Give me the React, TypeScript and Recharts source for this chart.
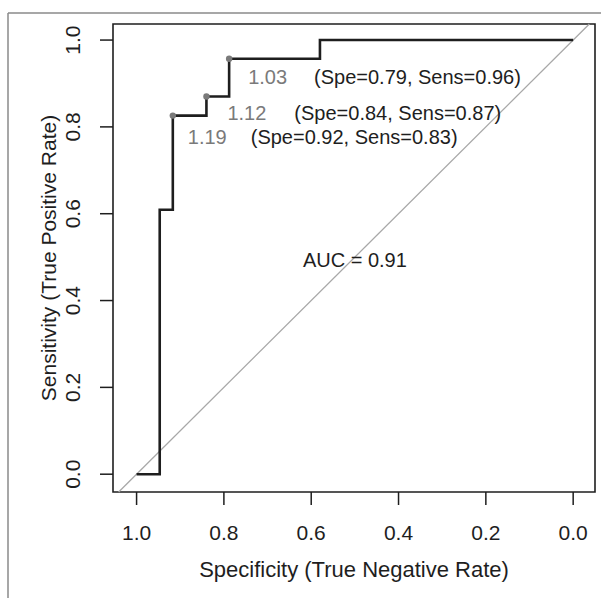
import React from 'react';
import {
  ComposedChart,
  Line,
  Scatter,
  XAxis,
  YAxis,
  ReferenceLine,
  ReferenceArea,
  ReferenceDot,
} from 'recharts';

// ROC step curve (specificity, sensitivity)
const rocSpec = [1, 0.947, 0.947, 0.917, 0.917, 0.84, 0.84, 0.788, 0.788, 0.58, 0.58, 0];
const rocSens = [0, 0, 0.609, 0.609, 0.826, 0.826, 0.87, 0.87, 0.957, 0.957, 1, 1];

// printed thresholds
const thrSpec = [0.788, 0.84, 0.917];
const thrSens = [0.957, 0.87, 0.826];
const thrValues = ['1.03', '1.12', '1.19'];
const thrTexts = ['(Spe=0.79, Sens=0.96)', '(Spe=0.84, Sens=0.87)', '(Spe=0.92, Sens=0.83)'];

const xTicks = [1, 0.8, 0.6, 0.4, 0.2, 0];
const yTicks = [0, 0.2, 0.4, 0.6, 0.8, 1];
const aucText = 'AUC = 0.91';

const X_MIN = -0.05;
const X_MAX = 1.054;
const Y_MIN = -0.041;
const Y_MAX = 1.037;

const FONT = '"Liberation Sans", Arial, Helvetica, sans-serif';
const INK = '#1e1e1e';
const GREY = '#7a7a7a';

// label nudges (px) for each threshold text, same order as thrValues
const labelDx = [19, 21, 15];
const labelDy = [18, 16, 21];
const labelGap = [27, 28, 24];

const rocData = rocSpec.map((spec, i) => ({ spec, sens: rocSens[i] }));
const thrData = thrSpec.map((spec, i) => ({
  spec,
  sens: thrSens[i],
  thr: thrValues[i],
  text: thrTexts[i],
  idx: i,
}));

const XTick = (props: any) => {
  const { x, y, payload } = props;
  return (
    <text x={x} y={y + 33} textAnchor="middle" fontSize={21} fontFamily={FONT} fill={INK}>
      {payload.value.toFixed(1)}
    </text>
  );
};

const YTick = (props: any) => {
  const { x, y, payload } = props;
  const bx = x - 18;
  return (
    <text
      x={bx}
      y={y}
      textAnchor="middle"
      fontSize={21}
      fontFamily={FONT}
      fill={INK}
      transform={`rotate(-90, ${bx}, ${y})`}
    >
      {payload.value.toFixed(1)}
    </text>
  );
};

const ThresholdPoint = (props: any) => {
  const { cx, cy, payload } = props;
  if (cx == null || cy == null) return null;
  const i = payload.idx;
  return (
    <g>
      <circle cx={cx} cy={cy} r={3.2} fill={GREY} />
      <text x={cx + labelDx[i]} y={cy + labelDy[i] + 7} fontSize={20} fontFamily={FONT}>
        <tspan fill={GREY}>{payload.thr}</tspan>
        <tspan dx={labelGap[i]} fill={INK}>{payload.text}</tspan>
      </text>
    </g>
  );
};

export default function App() {
  return (
    <div style={{ position: 'absolute', left: 0, top: 0, width: 601, height: 598, background: '#fff' }}>
      <svg
        width={601}
        height={598}
        style={{ position: 'absolute', left: 0, top: 0, pointerEvents: 'none' }}
      >
        <line x1={8} y1={13} x2={601} y2={13} stroke="#8a8a8a" strokeWidth={1.5} />
        <line x1={8} y1={13} x2={8} y2={598} stroke="#8a8a8a" strokeWidth={1.5} />
        <text x={354} y={577} textAnchor="middle" fontSize={22} fontFamily={FONT} fill={INK}>
          Specificity (True Negative Rate)
        </text>
        <text
          x={56}
          y={258}
          textAnchor="middle"
          fontSize={21}
          fontFamily={FONT}
          fill={INK}
          transform="rotate(-90, 56, 258)"
        >
          Sensitivity (True Positive Rate)
        </text>
      </svg>
      <div style={{ position: 'absolute', left: 0, top: 0 }}>
        <ComposedChart width={601} height={598} margin={{ top: 24, right: 6, left: 0, bottom: 0 }}>
          <XAxis
            type="number"
            dataKey="spec"
            domain={[X_MIN, X_MAX]}
            reversed
            allowDataOverflow
            ticks={xTicks}
            tick={<XTick />}
            tickSize={13}
            tickLine={{ stroke: INK, strokeWidth: 1.5 }}
            axisLine={false}
            height={106}
          />
          <YAxis
            type="number"
            dataKey="sens"
            domain={[Y_MIN, Y_MAX]}
            allowDataOverflow
            ticks={yTicks}
            tick={<YTick />}
            tickSize={13}
            tickLine={{ stroke: INK, strokeWidth: 1.5 }}
            axisLine={false}
            width={113}
          />
          <ReferenceLine
            segment={[
              { x: 1 - Y_MIN, y: Y_MIN },
              { x: 1 - Y_MAX, y: Y_MAX },
            ]}
            stroke="#a8a8a8"
            strokeWidth={1.3}
            ifOverflow="visible"
          />
          <Line
            data={rocData}
            dataKey="sens"
            type="linear"
            stroke={INK}
            strokeWidth={2.6}
            dot={false}
            activeDot={false}
            isAnimationActive={false}
          />
          <Scatter
            data={thrData}
            dataKey="sens"
            shape={<ThresholdPoint />}
            isAnimationActive={false}
          />
          <ReferenceDot
            x={0.5}
            y={0.5}
            r={1}
            fill="none"
            stroke="none"
            label={{ value: aucText, position: 'center', fontSize: 20, fill: INK, fontFamily: FONT, dy: 3 }}
          />
          <ReferenceArea
            x1={X_MIN}
            x2={X_MAX}
            y1={Y_MIN}
            y2={Y_MAX}
            fill="none"
            stroke={INK}
            strokeWidth={1.6}
            fillOpacity={0}
            ifOverflow="visible"
          />
        </ComposedChart>
      </div>
    </div>
  );
}
